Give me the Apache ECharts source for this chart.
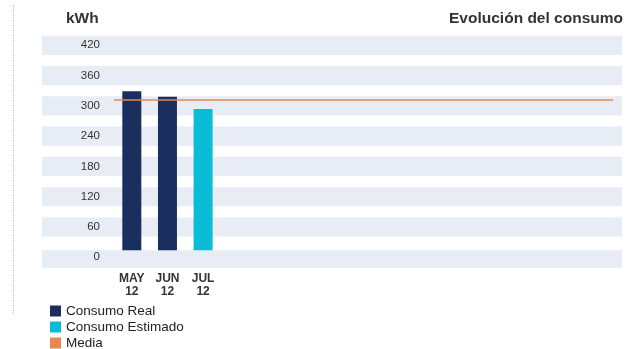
<!DOCTYPE html>
<html>
<head>
<meta charset="utf-8">
<script src="https://cdn.jsdelivr.net/npm/echarts@6/dist/echarts.min.js"></script>
<style>
  html, body { margin: 0; padding: 0; background: #fff; }
  #chart { width: 639px; height: 349px; }
</style>
</head>
<body>
<div id="chart"></div>
<script>
// Monthly consumption (kWh)
const months = ['MAY\n12', 'JUN\n12', 'JUL\n12'];
const consumoReal = [329, 318, null];
const consumoEstimado = [null, null, 294];
const media = 312;
const yTicks = [0, 60, 120, 180, 240, 300, 360, 420];

// The period axis has room for 14 months; only the first ones are filled
const slotCount = 14;
const categories = months.concat(new Array(slotCount - months.length).fill(''));

const font = 'Liberation Sans, Arial, sans-serif';
const bandHalf = 19;          // half height of each tick band, in kWh
const baseTop = 14;           // the zero band covers the foot of the bars
const bandColor = '#e8ecf4';
const colReal = '#1a2f5e';
const colEst = '#0bbcd6';
const colMedia = '#e8874f';

const bandAreas = yTicks.filter(v => v !== 0).map(v => [{ yAxis: v - bandHalf }, { yAxis: v + bandHalf }]);
const baseBand = [[{ yAxis: -bandHalf - 2 }, { yAxis: baseTop }]];

// plot area: 0..420 kWh over 212 px; the band layer reaches one step beyond
const plotTop = 45.3, plotH = 212;
const pxPerKwh = plotH / 420;
const bandTop = plotTop - 60 * pxPerKwh, bandH = 540 * pxPerKwh;

const legendItem = (name, top) => ({
  data: [name],
  left: 50,
  top: top,
  padding: 0,
  itemWidth: 11,
  itemHeight: 11,
  icon: 'rect',
  textStyle: { fontSize: 13.5, color: '#222', fontFamily: font }
});

const chart = echarts.init(document.getElementById('chart'), null, { renderer: 'canvas' });
chart.setOption({
  animation: false,
  textStyle: { fontFamily: font },
  title: [
    { text: 'kWh', left: 61, top: 6, textStyle: { fontSize: 15.5, fontWeight: 'bold', color: '#333', fontFamily: font } },
    { text: 'Evolución del consumo', right: 11, top: 6, textStyle: { fontSize: 15.5, fontWeight: 'bold', color: '#333', fontFamily: font } }
  ],
  legend: [
    legendItem('Consumo Real', 304),
    legendItem('Consumo Estimado', 320),
    legendItem('Media', 336)
  ],
  graphic: [{
    type: 'line',
    shape: { x1: 13.5, y1: 5, x2: 13.5, y2: 315 },
    style: { stroke: '#b0b0b0', lineWidth: 1, lineDash: [1, 1.5] },
    silent: true
  }],
  grid: [
    { left: 114, width: 499, top: plotTop, height: plotH },
    { left: 42, width: 580, top: bandTop, height: bandH }
  ],
  xAxis: [
    {
      type: 'category',
      gridIndex: 0,
      data: categories,
      axisLine: { show: false },
      axisTick: { show: false },
      axisLabel: { color: '#333', fontSize: 12, fontWeight: 'bold', lineHeight: 13, margin: 15, interval: 0, fontFamily: font },
      splitLine: { show: false },
      z: 6
    },
    { type: 'value', gridIndex: 1, min: 0, max: 1, show: false }
  ],
  yAxis: [
    {
      type: 'value',
      gridIndex: 0,
      min: 0, max: 420, interval: 60,
      axisLine: { show: false },
      axisTick: { show: false },
      splitLine: { show: false },
      z: 6,
      axisLabel: {
        margin: 14,
        color: '#333',
        fontSize: 11.5,
        fontFamily: font,
        formatter: v => (yTicks.indexOf(v) >= 0 ? String(v) : '')
      }
    },
    { type: 'value', gridIndex: 1, min: -60, max: 480, interval: 60, show: false }
  ],
  series: [
    {
      type: 'line',
      xAxisIndex: 1, yAxisIndex: 1,
      data: [],
      silent: true,
      markArea: { silent: true, z: 0, itemStyle: { color: bandColor }, data: bandAreas }
    },
    {
      name: 'Consumo Real',
      type: 'bar',
      stack: 'consumo',
      data: consumoReal,
      barWidth: 19,
      itemStyle: { color: colReal },
      z: 2
    },
    {
      name: 'Consumo Estimado',
      type: 'bar',
      stack: 'consumo',
      data: consumoEstimado,
      barWidth: 19,
      itemStyle: { color: colEst },
      z: 2
    },
    {
      type: 'line',
      xAxisIndex: 1, yAxisIndex: 1,
      data: [],
      silent: true,
      markArea: { silent: true, z: 3, itemStyle: { color: bandColor }, data: baseBand }
    },
    {
      name: 'Media',
      type: 'line',
      data: [],
      itemStyle: { color: colMedia },
      lineStyle: { color: colMedia },
      markLine: {
        silent: true,
        z: 5,
        symbol: ['none', 'none'],
        label: { show: false },
        lineStyle: { color: colMedia, width: 1.5, type: 'solid' },
        data: [{ yAxis: media }]
      }
    }
  ]
});
</script>
</body>
</html>
